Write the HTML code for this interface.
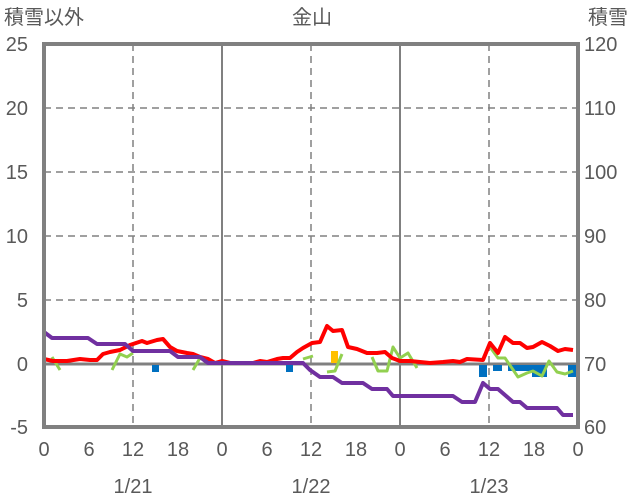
<!DOCTYPE html><html><head><meta charset="utf-8"><style>body{margin:0;background:#fff}svg{display:block}text{font-family:"Liberation Sans","Noto Sans CJK JP",sans-serif;fill:#595959;font-size:20px}</style></head><body>
<svg width="636" height="501" viewBox="0 0 636 501">
<g stroke="#808080" stroke-width="1.5" stroke-dasharray="7,5" fill="none">
<line x1="44" y1="108" x2="578" y2="108"/><line x1="44" y1="172" x2="578" y2="172"/><line x1="44" y1="236" x2="578" y2="236"/><line x1="44" y1="300" x2="578" y2="300"/>
<line x1="133" y1="44" x2="133" y2="427"/><line x1="311" y1="44" x2="311" y2="427"/><line x1="489" y1="44" x2="489" y2="427"/>
</g>
<g stroke="#808080" stroke-width="2"><line x1="222" y1="44" x2="222" y2="427"/><line x1="400" y1="44" x2="400" y2="427"/></g>
<line x1="44" y1="364" x2="578" y2="364" stroke="#808080" stroke-width="3"/>
<g fill="#0070C0"><rect x="152" y="365" width="7" height="7"/><rect x="286" y="365" width="7" height="7"/><rect x="479" y="365" width="8" height="12"/><rect x="493" y="365" width="9" height="6"/><rect x="508" y="365" width="24" height="6"/><rect x="532" y="365" width="15" height="12"/><rect x="568" y="365" width="8" height="12"/></g>
<rect x="331" y="351" width="7" height="12" fill="#FFC000"/>
<g fill="none" stroke-width="3" stroke-linejoin="round">
<g stroke="#92D050"><polyline points="52,357 60,370"/><polyline points="112,370 120,354 127,357 133,353"/><polyline points="193,370 200,358"/><polyline points="303,359 313,356"/><polyline points="327,372 335,371 342,354"/><polyline points="372,357 378,371 387,371 393,347 400,358 408,353 417,368"/><polyline points="490,347 498,358 505,358 518,377 527,373 533,371 542,376 549,361 557,372 565,374 573,371"/></g>
<polyline stroke="#FF0000" stroke-width="4" points="44,359 53,361 67,361 80,359 90,360 97,360 103,354 110,352 120,350 130,345 142,341 147,343 157,340 163,339 170,347 177,351 187,353 193,354 200,357 208,359 215,363 222,361 230,363 253,363 260,361 267,362 277,359 283,358 290,358 297,352 303,348 312,343 320,342 327,326 333,331 342,330 348,347 357,349 367,353 377,353 385,352 392,358 400,361 410,361 430,363 443,362 453,361 460,362 467,359 483,360 490,343 498,353 505,337 513,343 520,343 527,348 533,347 542,342 550,346 558,351 565,349 573,350"/>
<polyline stroke="#7030A0" stroke-width="4" points="44,332 52,338 88,338 97,344 125,344 133,351 170,351 178,357 200,357 208,363 303,363 310,370 320,377 333,377 342,383 363,383 372,389 387,389 393,396 453,396 462,402 475,402 483,383 490,389 498,389 513,402 520,402 527,408 557,408 563,415 573,415"/>
</g>
<rect x="44" y="44" width="534" height="383" fill="none" stroke="#808080" stroke-width="4"/>
<g text-anchor="end"><text x="28" y="51">25</text><text x="28" y="115">20</text><text x="28" y="179">15</text><text x="28" y="243">10</text><text x="28" y="307">5</text><text x="28" y="371">0</text><text x="28" y="434">-5</text></g>
<g><text x="584" y="51">120</text><text x="584" y="115">110</text><text x="584" y="179">100</text><text x="584" y="243">90</text><text x="584" y="307">80</text><text x="584" y="371">70</text><text x="584" y="434">60</text></g>
<g text-anchor="middle"><text x="44" y="456">0</text><text x="89" y="456">6</text><text x="133" y="456">12</text><text x="178" y="456">18</text><text x="222" y="456">0</text><text x="267" y="456">6</text><text x="311" y="456">12</text><text x="356" y="456">18</text><text x="400" y="456">0</text><text x="445" y="456">6</text><text x="489" y="456">12</text><text x="534" y="456">18</text><text x="578" y="456">0</text>
<text x="133" y="493">1/21</text><text x="311" y="493">1/22</text><text x="489" y="493">1/23</text>
<text x="312" y="24">金山</text></g>
<text x="4" y="24">積雪以外</text><text x="588" y="24">積雪</text>
</svg></body></html>
